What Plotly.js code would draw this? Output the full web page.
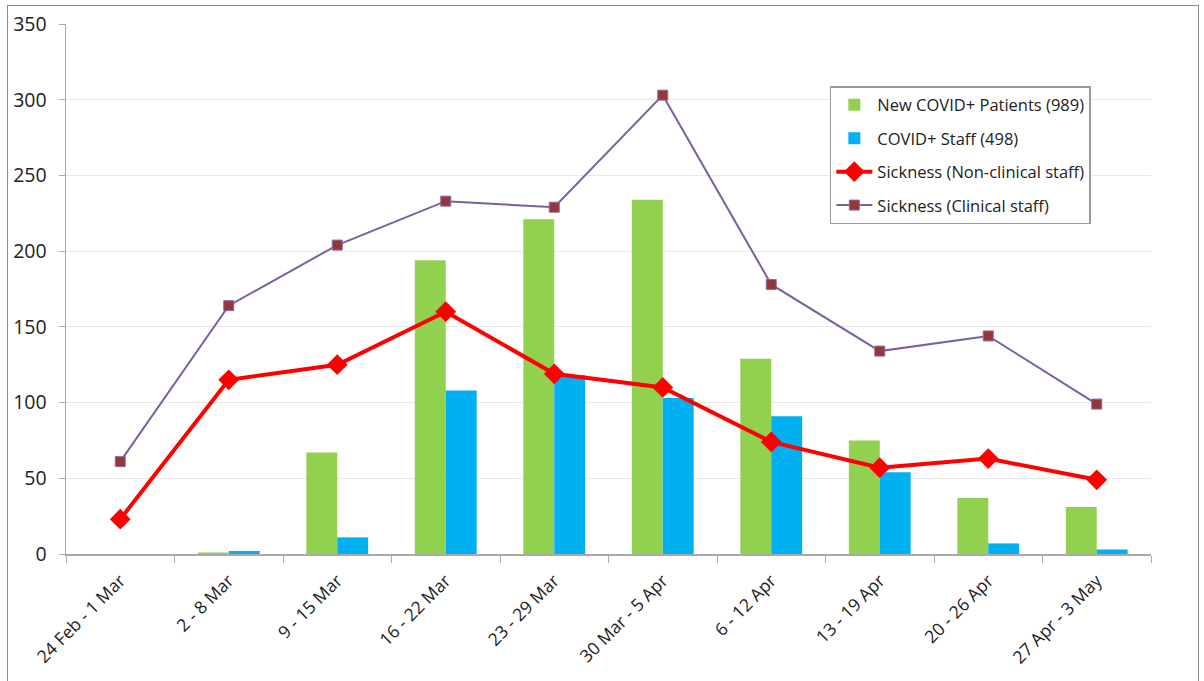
<!DOCTYPE html>
<html>
<head>
<meta charset="utf-8">
<script src="https://cdn.plot.ly/plotly-3.0.1.min.js"></script>
<style>
html,body{margin:0;padding:0;background:#fff;}
#frame{position:absolute;left:7px;top:5px;width:1192px;height:690px;border:1.5px solid #8c8c8c;box-sizing:border-box;}
#chart{position:absolute;left:0;top:0;width:1204px;height:681px;}
</style>
</head>
<body>
<div id="frame"></div>
<div id="chart"></div>
<script>
const categories = ["24 Feb - 1 Mar","2 - 8 Mar","9 - 15 Mar","16 - 22 Mar","23 - 29 Mar","30 Mar - 5 Apr","6 - 12 Apr","13 - 19 Apr","20 - 26 Apr","27 Apr - 3 May"];
const newPatients = [0, 1, 67, 194, 221, 234, 129, 75, 37, 31];
const covidStaff = [0, 2, 11, 108, 118, 103, 91, 54, 7, 3];
const sicknessNonClinical = [23, 115, 125, 160, 119, 110, 74, 57, 63, 49];
const sicknessClinical = [61, 164, 204, 233, 229, 303, 178, 134, 144, 99];
const yTicks = [0, 50, 100, 150, 200, 250, 300, 350];

const traces = [
  {type:"bar", name:"New COVID+ Patients (989)", legendgroup:"a", x:categories, y:newPatients,
   marker:{color:"#92D050", line:{width:0}}},
  {type:"bar", name:"COVID+ Staff (498)", legendgroup:"b", x:categories, y:covidStaff,
   marker:{color:"#00B0F0", line:{width:0}}},
  {type:"scatter", mode:"lines+markers", name:"Sickness (Non-clinical staff)", legendgroup:"c", x:categories, y:sicknessNonClinical,
   line:{color:"#FF0000", width:4}, marker:{symbol:"diamond", size:16, color:"#FF0000"}},
  {type:"scatter", mode:"lines+markers", name:"Sickness (Clinical staff)", legendgroup:"d", x:categories, y:sicknessClinical,
   line:{color:"#7b5fa0", width:2}, marker:{symbol:"square", size:10, color:"#953735", line:{color:"#8a6aa8", width:1}}}
];

const layout = {
  width:1204, height:681,
  margin:{l:66, r:53, t:24, b:127},
  paper_bgcolor:"rgba(0,0,0,0)", plot_bgcolor:"rgba(0,0,0,0)",
  barmode:"group", bargap:0.43, bargroupgap:0,
  font:{family:"Open Sans, Liberation Sans, sans-serif", color:"#222"},
  showlegend:true,
  legend:{x:0.704, y:0.883, xanchor:"left", yanchor:"top", bgcolor:"#fff",
    bordercolor:"#9a9a9a", borderwidth:1.5, font:{size:16.5, color:"#222"},
    tracegroupgap:9, itemwidth:36, traceorder:"grouped"},
  xaxis:{type:"category", range:[-0.5, 9.5], automargin:false, tickangle:-45, tickfont:{size:17.5, color:"#222"},
    showline:true, linecolor:"#aaaaaa", linewidth:1.5, ticks:"outside", tickson:"boundaries",
    ticklen:7, tickcolor:"#aaaaaa", showgrid:false, ticklabelstandoff:8},
  yaxis:{range:[0,350], automargin:false, tickvals:yTicks, ticktext:yTicks.map(String), tickfont:{size:19.5, color:"#222"},
    showline:true, linecolor:"#aaaaaa", linewidth:1.5, ticks:"outside", ticklen:6, tickcolor:"#aaaaaa",
    ticklabelstandoff:8,
    showgrid:true, gridcolor:"#e8e8e8", gridwidth:1.2, zeroline:false}
};

Plotly.newPlot("chart", traces, layout, {displayModeBar:false, staticPlot:true});
</script>
</body>
</html>
